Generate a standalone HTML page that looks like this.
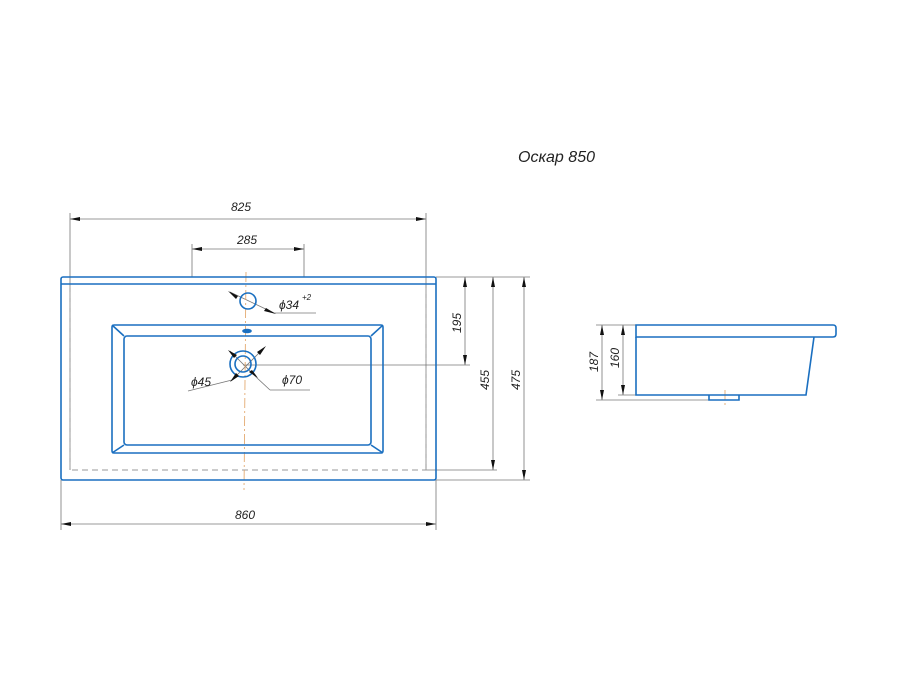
<!DOCTYPE html>
<html><head><meta charset="utf-8"><style>
html,body{margin:0;padding:0;background:#fff;width:900px;height:674px;overflow:hidden}
svg{display:block}
text{font-family:"Liberation Sans",sans-serif;font-style:italic;fill:#222;font-size:12px}
</style></head><body>
<svg width="900" height="674" viewBox="0 0 900 674">
<defs>
<marker id="a" markerWidth="10" markerHeight="6" refX="10" refY="3" orient="auto-start-reverse" markerUnits="userSpaceOnUse"><path d="M0,1 L10,3 L0,5z" fill="#111"/></marker>
</defs>
<text x="518" y="162" style="font-size:16px" textLength="77">Оскар 850</text>
<g stroke="#777" stroke-width="0.8" fill="none">
<!-- 825 -->
<line x1="70" y1="213" x2="70" y2="470"/><line x1="426" y1="213" x2="426" y2="470"/>
<line x1="70" y1="219" x2="426" y2="219" marker-start="url(#a)" marker-end="url(#a)"/>
<!-- 285 -->
<line x1="192" y1="244" x2="192" y2="277"/><line x1="304" y1="244" x2="304" y2="277"/>
<line x1="192" y1="249" x2="304" y2="249" marker-start="url(#a)" marker-end="url(#a)"/>
<!-- 860 -->
<line x1="61" y1="480" x2="61" y2="530"/><line x1="436" y1="480" x2="436" y2="530"/>
<line x1="61" y1="524" x2="436" y2="524" marker-start="url(#a)" marker-end="url(#a)"/>
<!-- right -->
<line x1="436" y1="277" x2="530" y2="277"/>
<line x1="243" y1="365" x2="470" y2="365"/>
<line x1="426" y1="470" x2="497" y2="470"/>
<line x1="436" y1="480" x2="530" y2="480"/>
<line x1="465" y1="277" x2="465" y2="365" marker-start="url(#a)" marker-end="url(#a)"/>
<line x1="493" y1="277" x2="493" y2="470" marker-start="url(#a)" marker-end="url(#a)"/>
<line x1="524" y1="277" x2="524" y2="480" marker-start="url(#a)" marker-end="url(#a)"/>
<!-- leaders -->
<line x1="230" y1="292" x2="274" y2="313"/><line x1="274" y1="313" x2="316" y2="313"/>
<line x1="230" y1="351" x2="256" y2="377"/>
<line x1="264" y1="348" x2="232" y2="380"/><line x1="232" y1="380" x2="188" y2="391" />
<line x1="256" y1="377" x2="270" y2="390"/><line x1="270" y1="390" x2="310" y2="390"/>
<!-- side dims -->
<line x1="596" y1="325" x2="636" y2="325"/>
<line x1="596" y1="400" x2="709" y2="400"/>
<line x1="618" y1="395" x2="636" y2="395"/>
<line x1="602" y1="325" x2="602" y2="400" marker-start="url(#a)" marker-end="url(#a)"/>
<line x1="623" y1="325" x2="623" y2="395" marker-start="url(#a)" marker-end="url(#a)"/>
</g>
<g stroke="#999" stroke-width="1" fill="none" stroke-dasharray="6,4">
<rect x="70" y="284" width="356" height="186"/>
</g>
<g stroke="#e0a060" stroke-width="0.8" stroke-dasharray="10,3,2,3">
<line x1="246" y1="272" x2="244" y2="490"/>
<line x1="725" y1="390" x2="725" y2="406"/>
</g>
<g stroke="#1a6fc0" stroke-width="1.6" fill="none">
<rect x="61" y="277" width="375" height="203" rx="2"/>
<line x1="61" y1="284" x2="436" y2="284"/>
<rect x="112" y="325" width="271" height="128" rx="2"/>
<rect x="124" y="336" width="247" height="109" rx="3"/>
<line x1="112" y1="325" x2="124" y2="336"/><line x1="383" y1="325" x2="371" y2="336"/>
<line x1="112" y1="453" x2="124" y2="445"/><line x1="383" y1="453" x2="371" y2="445"/>
<circle cx="248" cy="301" r="8"/>
<circle cx="243" cy="364" r="8"/><circle cx="243" cy="364" r="13"/>
<ellipse cx="247" cy="331" rx="4" ry="1.5" fill="#1a6fc0"/>
<!-- side -->
<path d="M636,337 L636,325 L833,325 Q836,325 836,328 L836,334 Q836,337 833,337 Z"/>
<path d="M636,337 L636,395 L806,395 L814,337"/>
<path d="M709,395 L709,400 L739,400 L739,395"/>
</g>
<g fill="#111"><path d="M228,291 L238,296 L236,299z"/><path d="M276,314 L266,308 L264,311z"/>
<path d="M228,350 L237,355 L234,358z"/><path d="M258,378 L249,372 L252,370z"/>
<path d="M266,346 L257,352 L260,355z"/><path d="M230,382 L236,373 L239,376z"/></g>
<text x="231" y="211">825</text>
<text x="237" y="244">285</text>
<text x="235" y="519">860</text>
<text x="279" y="309">ϕ34</text><text x="302" y="300" style="font-size:8px">+2</text>
<text x="191" y="386">ϕ45</text>
<text x="282" y="384">ϕ70</text>
<text transform="translate(461,333) rotate(-90)">195</text>
<text transform="translate(489,390) rotate(-90)">455</text>
<text transform="translate(520,390) rotate(-90)">475</text>
<text transform="translate(598,372) rotate(-90)">187</text>
<text transform="translate(619,368) rotate(-90)">160</text>
</svg>
</body></html>
